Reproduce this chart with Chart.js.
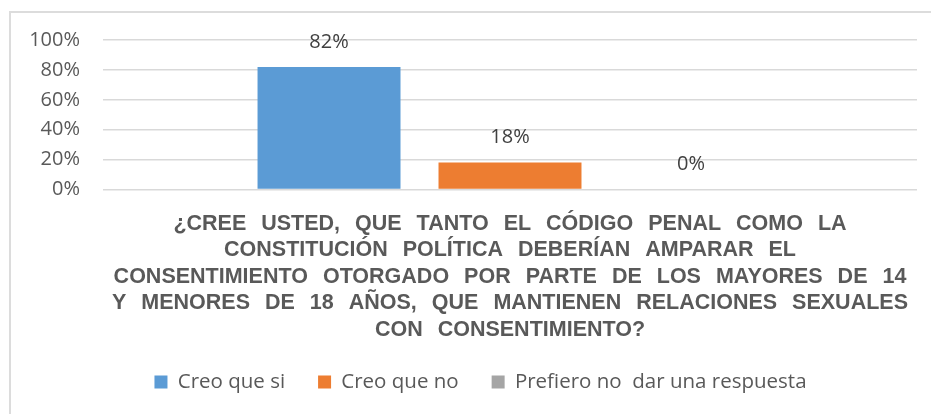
<!DOCTYPE html>
<html>
<head>
<meta charset="utf-8">
<script src="https://cdn.jsdelivr.net/npm/chart.js@4/dist/chart.umd.min.js"></script>
<style>
  html, body { margin: 0; padding: 0; background: #fff; }
  #wrap { position: relative; width: 931px; height: 414px; overflow: hidden; }
  #frame { position: absolute; left: 9px; top: 11px; width: 960px; height: 440px; border: 2px solid #dcdcdc; box-sizing: border-box; }
  canvas { position: absolute; left: 0; top: 0; }
</style>
</head>
<body>
<div id="wrap">
  <div id="frame"></div>
  <canvas id="chart" width="931" height="414"></canvas>
</div>
<script>
// pregunta (categoria unica, en lineas)
var categories = [[
  '¿CREE USTED, QUE TANTO EL CÓDIGO PENAL COMO LA',
  'CONSTITUCIÓN POLÍTICA DEBERÍAN AMPARAR EL',
  'CONSENTIMIENTO OTORGADO POR PARTE DE LOS MAYORES DE 14',
  'Y MENORES DE 18 AÑOS, QUE MANTIENEN RELACIONES SEXUALES',
  'CON CONSENTIMIENTO?'
]];
var seriesNames = ['Creo que si', 'Creo que no', 'Prefiero no  dar una respuesta'];
var seriesValues = [82, 18, 0];
var yTicks = [0, 20, 40, 60, 80, 100];

var colors = ['#5b9bd5', '#ed7d31', '#a5a5a5'];

// eje de categorias con espacios entre palabras mas anchos (como en Excel)
class SpacedCategory extends Chart.CategoryScale {
  drawLabels(area) {
    this.ctx.save();
    this.ctx.wordSpacing = '9px';
    super.drawLabels(area);
    this.ctx.restore();
  }
}
SpacedCategory.id = 'spacedCategory';
SpacedCategory.defaults = Chart.CategoryScale.defaults;

// eje de valores sin recorte de las etiquetas
class FreeLinear extends Chart.LinearScale {
  _computeLabelArea() { return undefined; }
}
FreeLinear.id = 'freeLinear';
FreeLinear.defaults = Chart.LinearScale.defaults;

Chart.register(SpacedCategory, FreeLinear);

var datasets = [];
for (var i = 0; i < seriesNames.length; i++) {
  datasets.push({
    label: seriesNames[i],
    data: [seriesValues[i]],
    backgroundColor: colors[i],
    categoryPercentage: 0.667,
    barPercentage: 0.79
  });
}

// etiquetas de valor encima de cada barra
var valueLabels = {
  id: 'valueLabels',
  afterDatasetsDraw: function(chart) {
    var ctx = chart.ctx;
    ctx.save();
    ctx.font = '20px "Open Sans"';
    ctx.fillStyle = '#404040';
    ctx.textAlign = 'center';
    ctx.textBaseline = 'middle';
    chart.data.datasets.forEach(function(ds, d) {
      var meta = chart.getDatasetMeta(d);
      meta.data.forEach(function(bar, j) {
        ctx.fillText(ds.data[j] + '%', bar.x, bar.y - 25);
      });
    });
    ctx.restore();
  }
};

var ctx = document.getElementById('chart').getContext('2d');
new Chart(ctx, {
  type: 'bar',
  data: { labels: categories, datasets: datasets },
  plugins: [valueLabels],
  options: {
    responsive: false,
    animation: false,
    layout: { padding: { top: 40, right: 14, bottom: 11.75, left: 44 } },
    plugins: {
      tooltip: { enabled: false },
      legend: {
        position: 'bottom',
        labels: {
          boxWidth: 13,
          boxHeight: 13,
          padding: 33,
          color: '#595959',
          font: { family: '"Open Sans"', size: 20.5 }
        }
      }
    },
    scales: {
      x: {
        type: 'spacedCategory',
        grid: { display: false, drawTicks: false },
        border: { display: false },
        ticks: {
          maxRotation: 0,
          autoSkip: false,
          padding: 21.25,
          color: '#595959',
          font: { family: '"Liberation Sans"', size: 21.5, weight: 'bold', lineHeight: 1.2326 }
        },
        afterFit: function(scale) { scale.height = 149.25; }
      },
      y: {
        type: 'freeLinear',
        min: 0,
        max: 100,
        afterBuildTicks: function(scale) {
          scale.ticks = yTicks.map(function(v) { return { value: v }; });
        },
        grid: { color: '#d9d9d9', lineWidth: 1.5, drawTicks: false },
        border: { display: false },
        ticks: {
          padding: 23,
          color: '#595959',
          font: { family: '"Open Sans"', size: 20 },
          callback: function(v) { return v + '%'; }
        },
        afterFit: function(scale) { scale.width = 59; }
      }
    }
  }
});
</script>
</body>
</html>
